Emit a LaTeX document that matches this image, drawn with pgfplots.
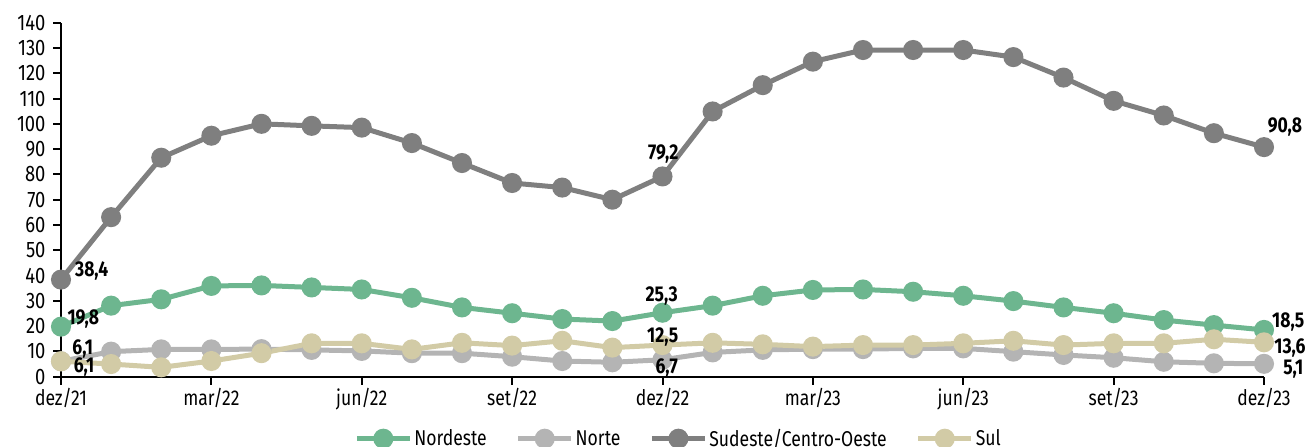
\documentclass[border=0pt]{standalone}
\usepackage{fontspec}
\setmainfont{Fira Sans}[FakeStretch=0.82]
\usepackage{pgfplots}
\usepackage{pgfplotstable}
\pgfplotsset{compat=1.18}
\definecolor{cNE}{HTML}{6DB68F}
\definecolor{cN}{HTML}{B4B4B4}
\definecolor{cSE}{HTML}{7F7F7F}
\definecolor{cS}{HTML}{D2CBA6}
\tikzset{lbl/.style={font=\bfseries\fontsize{21.5}{24}\selectfont, inner sep=0pt, anchor=base, text=black}}
\pgfplotstableread{
x NE N SE S
0 19.8 6.1 38.4 6.1
1 28.1 9.9 63.1 5.0
2 30.6 10.8 86.6 3.7
3 35.9 10.8 95.3 6.2
4 36.1 10.9 100.0 9.3
5 35.3 10.6 99.2 13.2
6 34.5 10.2 98.5 13.2
7 31.2 9.3 92.4 10.8
8 27.4 9.3 84.5 13.4
9 25.1 7.9 76.6 12.3
10 22.8 6.2 74.8 14.2
11 22.0 5.7 70.0 11.5
12 25.3 6.7 79.2 12.5
13 28.1 9.6 104.9 13.4
14 32.0 10.6 115.3 12.8
15 34.3 10.9 124.6 11.9
16 34.5 10.9 129.2 12.5
17 33.6 11.2 129.2 12.5
18 32.0 11.2 129.2 13.2
19 29.9 9.9 126.4 14.2
20 27.4 8.6 118.3 12.5
21 25.1 7.5 109.1 13.2
22 22.4 5.9 103.3 13.2
23 20.4 5.3 96.3 14.8
24 18.5 5.1 90.8 13.6
}\data
\begin{document}
\begin{tikzpicture}
\begin{axis}[
  set layers,
  at={(61bp,70.3bp)}, anchor=south west,
  scale only axis, width=1203bp, height=354bp,
  xmin=0, xmax=24, ymin=0, ymax=140,
  axis lines=left, axis line style={-, line width=2bp, black},
  xtick={0,3,...,24},
  xticklabels={dez/21,mar/22,jun/22,set/22,dez/22,mar/23,jun/23,set/23,dez/23},
  ytick={0,10,...,140},
  tick align=outside, major tick length=8bp,
  tick style={line width=2bp, black},
  ticklabel style={font=\fontsize{21.5}{24}\selectfont, text=black},
  yticklabel style={xshift=-4bp, font=\fontsize{22.5}{24}\selectfont},
  /pgf/number format/assume math mode=true,
  clip=false,
  legend columns=4,
  legend style={at={(0.5,0)}, anchor=center, xshift=16bp, yshift=-62bp,
    draw=none, fill=none, inner sep=0pt,
    font=\fontsize{21.5}{24}\selectfont,
    /tikz/every even column/.append style={column sep=27bp}},
  legend cell align=left,
  legend image code/.code={\draw[mark repeat=2,mark phase=2,#1] plot coordinates {(0bp,0bp) (26.5bp,0bp) (53bp,0bp)};},
  every axis plot/.append style={line width=5bp, mark=*, mark size=7.5bp},
]
\addplot[color=cNE, mark options={draw=none, fill=cNE}] table[x=x,y=NE] {\data};
\addlegendentry{Nordeste}
\addplot[color=cN, mark options={draw=none, fill=cN}] table[x=x,y=N] {\data};
\addlegendentry{Norte}
\addplot[color=cSE, mark options={draw=none, fill=cSE}] table[x=x,y=SE] {\data};
\addlegendentry{Sudeste/Centro-Oeste}
\addplot[color=cS, mark options={draw=none, fill=cS}] table[x=x,y=S] {\data};
\addlegendentry{Sul}
\begin{pgfonlayer}{axis foreground}
\node[lbl] at ([shift={(30.7bp,3.1bp)}]axis cs:0,38.4) {38,4};
\node[lbl] at ([shift={(22.3bp,2.4bp)}]axis cs:0,19.8) {19,8};
\node[lbl] at ([shift={(21.7bp,7.1bp)}]axis cs:0,6.1) {6,1};
\node[lbl] at ([shift={(23bp,-11.2bp)}]axis cs:0,6.1) {6,1};
\node[lbl] at ([shift={(0.8bp,17.2bp)}]axis cs:12,79.2) {79,2};
\node[lbl] at ([shift={(-0.8bp,11.2bp)}]axis cs:12,25.3) {25,3};
\node[lbl] at ([shift={(0.2bp,2.6bp)}]axis cs:12,12.5) {12,5};
\node[lbl] at ([shift={(4.2bp,-13.4bp)}]axis cs:12,6.7) {6,7};
\node[lbl] at ([shift={(21bp,14.6bp)}]axis cs:24,90.8) {90,8};
\node[lbl] at ([shift={(24.3bp,2.4bp)}]axis cs:24,18.5) {18,5};
\node[lbl] at ([shift={(26bp,-11.2bp)}]axis cs:24,13.6) {13,6};
\node[lbl] at ([shift={(29.3bp,-10.4bp)}]axis cs:24,5.1) {5,1};
\end{pgfonlayer}
\end{axis}
\pgfresetboundingbox
\useasboundingbox (0,0) rectangle (1306bp,447bp);
\end{tikzpicture}
\end{document}
